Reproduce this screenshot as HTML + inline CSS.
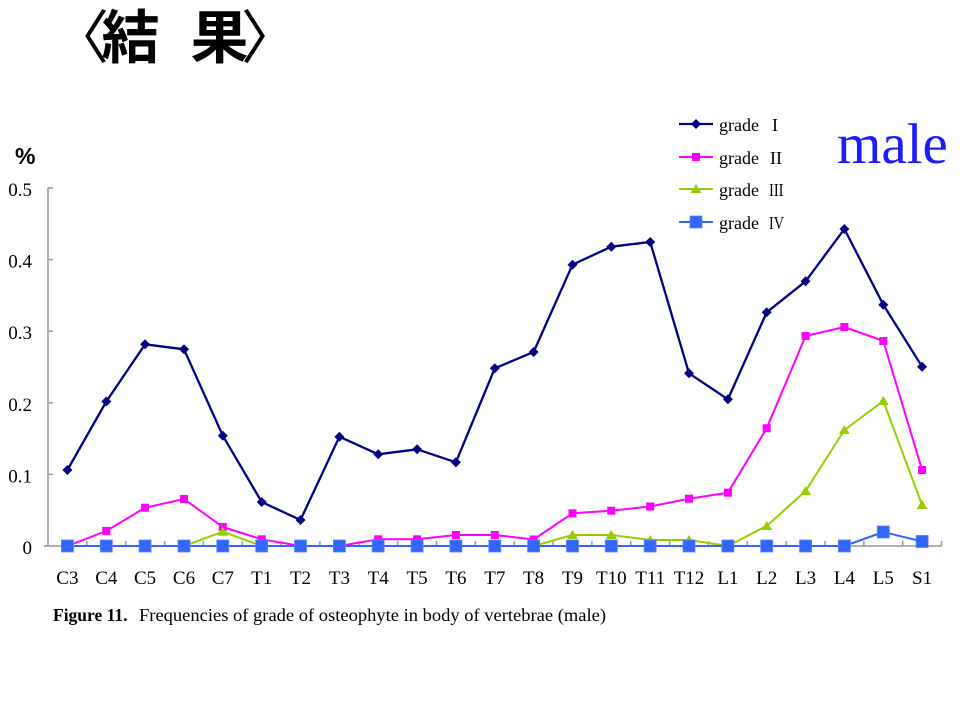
<!DOCTYPE html>
<html><head><meta charset="utf-8"><style>
html,body{margin:0;padding:0;background:#fff;}
svg{display:block;}
</style></head><body>
<svg width="960" height="720" viewBox="0 0 960 720" xmlns="http://www.w3.org/2000/svg">
<rect width="960" height="720" fill="#fff"/>
<!-- title -->
<g font-family="'Noto Sans CJK JP','Noto Sans CJK SC',sans-serif" font-size="58" fill="#000">
<text x="51" y="58">〈</text>
<text x="130.5" y="58" text-anchor="middle" font-weight="bold">結</text>
<text x="219.5" y="58" text-anchor="middle" font-weight="bold">果</text>
<text x="241" y="58">〉</text>
</g>
<text x="15" y="164" font-family="'Liberation Sans',sans-serif" font-weight="bold" font-size="23" fill="#000">%</text>
<text x="837" y="163" font-family="'Liberation Serif',serif" font-size="57" fill="#1c1cff">male</text>

<!-- axes -->
<g stroke="#999" stroke-width="1.5" fill="none">
<line x1="48" y1="188" x2="48" y2="546"/>
<line x1="44" y1="546" x2="941.5" y2="546"/>
<line x1="48" y1="188" x2="53" y2="188"/>
<line x1="48" y1="259.6" x2="53" y2="259.6"/>
<line x1="48" y1="331.2" x2="53" y2="331.2"/>
<line x1="48" y1="402.8" x2="53" y2="402.8"/>
<line x1="48" y1="474.4" x2="53" y2="474.4"/>
<path d="M86.85 546V541M125.7 546V541M164.55 546V541M203.4 546V541M242.25 546V541M281.1 546V541M319.95 546V541M358.8 546V541M397.65 546V541M436.5 546V541M475.35 546V541M514.2 546V541M553.05 546V541M591.9 546V541M630.75 546V541M669.6 546V541M708.45 546V541M747.3 546V541M786.15 546V541M825 546V541M863.85 546V541M902.7 546V541M941.5 546V541"/>
</g>
<g font-family="'Liberation Serif',serif" font-size="19" fill="#000" text-anchor="end">
<text x="32" y="196">0.5</text>
<text x="32" y="267.6">0.4</text>
<text x="32" y="339.2">0.3</text>
<text x="32" y="410.8">0.2</text>
<text x="32" y="482.4">0.1</text>
<text x="32" y="554">0</text>
</g>
<g font-family="'Liberation Serif',serif" font-size="19" fill="#000" text-anchor="middle">
<text x="67.4" y="584">C3</text><text x="106.3" y="584">C4</text><text x="145.1" y="584">C5</text><text x="184" y="584">C6</text><text x="222.8" y="584">C7</text><text x="261.7" y="584">T1</text><text x="300.5" y="584">T2</text><text x="339.4" y="584">T3</text><text x="378.2" y="584">T4</text><text x="417.1" y="584">T5</text><text x="455.9" y="584">T6</text><text x="494.8" y="584">T7</text><text x="533.6" y="584">T8</text><text x="572.5" y="584">T9</text><text x="611.3" y="584">T10</text><text x="650.2" y="584">T11</text><text x="689" y="584">T12</text><text x="727.9" y="584">L1</text><text x="766.7" y="584">L2</text><text x="805.6" y="584">L3</text><text x="844.4" y="584">L4</text><text x="883.3" y="584">L5</text><text x="922.1" y="584">S1</text>
</g>
<text x="53" y="621" font-family="'Liberation Serif',serif" font-weight="bold" font-size="17.5" fill="#000">Figure 11.</text>
<text x="139" y="621" font-family="'Liberation Serif',serif" font-size="17.5" fill="#000" textLength="467" lengthAdjust="spacingAndGlyphs">Frequencies of grade of osteophyte in body of vertebrae (male)</text>

<!-- grade I -->
<polyline fill="none" stroke="#000080" stroke-width="2.3" stroke-linejoin="round" points="67.4,470 106.3,401.5 145.1,344.3 184,349.3 222.8,435.7 261.7,502 300.5,520 339.4,436.7 378.2,454.3 417.1,449.3 455.9,462.3 494.8,368.3 533.6,352 572.5,264.7 611.3,246.7 650.2,242 689,373.3 727.9,399.3 766.7,312.3 805.6,281.3 844.4,229 883.3,304.7 922.1,366.7"/>
<g fill="#000080">
<polygon points="67.4,465 72.4,470 67.4,475 62.4,470"/>
<polygon points="106.3,396.5 111.3,401.5 106.3,406.5 101.3,401.5"/>
<polygon points="145.1,339.3 150.1,344.3 145.1,349.3 140.1,344.3"/>
<polygon points="184,344.3 189,349.3 184,354.3 179,349.3"/>
<polygon points="222.8,430.7 227.8,435.7 222.8,440.7 217.8,435.7"/>
<polygon points="261.7,497 266.7,502 261.7,507 256.7,502"/>
<polygon points="300.5,515 305.5,520 300.5,525 295.5,520"/>
<polygon points="339.4,431.7 344.4,436.7 339.4,441.7 334.4,436.7"/>
<polygon points="378.2,449.3 383.2,454.3 378.2,459.3 373.2,454.3"/>
<polygon points="417.1,444.3 422.1,449.3 417.1,454.3 412.1,449.3"/>
<polygon points="455.9,457.3 460.9,462.3 455.9,467.3 450.9,462.3"/>
<polygon points="494.8,363.3 499.8,368.3 494.8,373.3 489.8,368.3"/>
<polygon points="533.6,347 538.6,352 533.6,357 528.6,352"/>
<polygon points="572.5,259.7 577.5,264.7 572.5,269.7 567.5,264.7"/>
<polygon points="611.3,241.7 616.3,246.7 611.3,251.7 606.3,246.7"/>
<polygon points="650.2,237 655.2,242 650.2,247 645.2,242"/>
<polygon points="689,368.3 694,373.3 689,378.3 684,373.3"/>
<polygon points="727.9,394.3 732.9,399.3 727.9,404.3 722.9,399.3"/>
<polygon points="766.7,307.3 771.7,312.3 766.7,317.3 761.7,312.3"/>
<polygon points="805.6,276.3 810.6,281.3 805.6,286.3 800.6,281.3"/>
<polygon points="844.4,224 849.4,229 844.4,234 839.4,229"/>
<polygon points="883.3,299.7 888.3,304.7 883.3,309.7 878.3,304.7"/>
<polygon points="922.1,361.7 927.1,366.7 922.1,371.7 917.1,366.7"/>
</g>

<!-- grade II -->
<polyline fill="none" stroke="#ff00ff" stroke-width="2" stroke-linejoin="round" points="67.4,546 106.3,531 145.1,507.7 184,499 222.8,527 261.7,539.3 300.5,546 339.4,546 378.2,539.3 417.1,539.3 455.9,535 494.8,535 533.6,539.5 572.5,513.3 611.3,510.7 650.2,506.5 689,498.7 727.9,492.7 766.7,428.3 805.6,336 844.4,327 883.3,341 922.1,470"/>
<g fill="#ff00ff">
<rect x="63.4" y="542" width="8" height="8"/>
<rect x="102.3" y="527" width="8" height="8"/>
<rect x="141.1" y="503.7" width="8" height="8"/>
<rect x="180" y="495" width="8" height="8"/>
<rect x="218.8" y="523" width="8" height="8"/>
<rect x="257.7" y="535.3" width="8" height="8"/>
<rect x="296.5" y="542" width="8" height="8"/>
<rect x="335.4" y="542" width="8" height="8"/>
<rect x="374.2" y="535.3" width="8" height="8"/>
<rect x="413.1" y="535.3" width="8" height="8"/>
<rect x="451.9" y="531" width="8" height="8"/>
<rect x="490.8" y="531" width="8" height="8"/>
<rect x="529.6" y="535.5" width="8" height="8"/>
<rect x="568.5" y="509.3" width="8" height="8"/>
<rect x="607.3" y="506.7" width="8" height="8"/>
<rect x="646.2" y="502.5" width="8" height="8"/>
<rect x="685" y="494.7" width="8" height="8"/>
<rect x="723.9" y="488.7" width="8" height="8"/>
<rect x="762.7" y="424.3" width="8" height="8"/>
<rect x="801.6" y="332" width="8" height="8"/>
<rect x="840.4" y="323" width="8" height="8"/>
<rect x="879.3" y="337" width="8" height="8"/>
<rect x="918.1" y="466" width="8" height="8"/>
</g>

<!-- grade III -->
<polyline fill="none" stroke="#99cc00" stroke-width="2" stroke-linejoin="round" points="67.4,546 106.3,546 145.1,546 184,546 222.8,531.7 261.7,546 300.5,546 339.4,546 378.2,546 417.1,546 455.9,546 494.8,546 533.6,546 572.5,535 611.3,535 650.2,540 689,540 727.9,546 766.7,526 805.6,491 844.4,430 883.3,401 922.1,505"/>
<g fill="#99cc00">
<polygon points="222.8,526.7 228.3,535.7 217.3,535.7"/>
<polygon points="572.5,530 578,539 567,539"/>
<polygon points="611.3,530 616.8,539 605.8,539"/>
<polygon points="650.2,535 655.7,544 644.7,544"/>
<polygon points="689,535 694.5,544 683.5,544"/>
<polygon points="766.7,521 772.2,530 761.2,530"/>
<polygon points="805.6,486 811.1,495 800.1,495"/>
<polygon points="844.4,425 849.9,434 838.9,434"/>
<polygon points="883.3,396 888.8,405 877.8,405"/>
<polygon points="922.1,500 927.6,509 916.6,509"/>
</g>

<!-- grade IV -->
<polyline fill="none" stroke="#3366ff" stroke-width="2" stroke-linejoin="round" points="67.4,546 844.4,546 883.3,532 922.1,541.5"/>
<g fill="#3366ff" stroke="#5a86ff" stroke-width="0.8">
<rect x="61.4" y="540" width="12" height="12"/>
<rect x="100.3" y="540" width="12" height="12"/>
<rect x="139.1" y="540" width="12" height="12"/>
<rect x="178" y="540" width="12" height="12"/>
<rect x="216.8" y="540" width="12" height="12"/>
<rect x="255.7" y="540" width="12" height="12"/>
<rect x="294.5" y="540" width="12" height="12"/>
<rect x="333.4" y="540" width="12" height="12"/>
<rect x="372.2" y="540" width="12" height="12"/>
<rect x="411.1" y="540" width="12" height="12"/>
<rect x="449.9" y="540" width="12" height="12"/>
<rect x="488.8" y="540" width="12" height="12"/>
<rect x="527.6" y="540" width="12" height="12"/>
<rect x="566.5" y="540" width="12" height="12"/>
<rect x="605.3" y="540" width="12" height="12"/>
<rect x="644.2" y="540" width="12" height="12"/>
<rect x="683" y="540" width="12" height="12"/>
<rect x="721.9" y="540" width="12" height="12"/>
<rect x="760.7" y="540" width="12" height="12"/>
<rect x="799.6" y="540" width="12" height="12"/>
<rect x="838.4" y="540" width="12" height="12"/>
<rect x="877.3" y="526" width="12" height="12"/>
<rect x="916.1" y="535.5" width="12" height="12"/>
</g>

<!-- legend -->
<line x1="679" y1="124" x2="713" y2="124" stroke="#000080" stroke-width="2.3"/>
<polygon points="696,119 701,124 696,129 691,124" fill="#000080"/>
<line x1="679" y1="157" x2="713" y2="157" stroke="#ff00ff" stroke-width="2"/>
<rect x="692" y="153" width="8" height="8" fill="#ff00ff"/>
<line x1="679" y1="189" x2="713" y2="189" stroke="#99cc00" stroke-width="2"/>
<polygon points="696,184 701.5,193 690.5,193" fill="#99cc00"/>
<line x1="679" y1="222" x2="713" y2="222" stroke="#3366ff" stroke-width="2"/>
<rect x="690" y="216" width="12" height="12" fill="#3366ff" stroke="#5a86ff" stroke-width="0.8"/>
<g font-family="'Liberation Serif',serif" font-size="18" fill="#000">
<text x="719" y="131">grade</text><text x="772" y="131">I</text>
<text x="719" y="164">grade</text><text x="770" y="164" textLength="12" lengthAdjust="spacingAndGlyphs">II</text>
<text x="719" y="196">grade</text><text x="769" y="196" textLength="14.5" lengthAdjust="spacingAndGlyphs">III</text>
<text x="719" y="229">grade</text><text x="769" y="229" textLength="15" lengthAdjust="spacingAndGlyphs">IV</text>
</g>
</svg>
</body></html>
